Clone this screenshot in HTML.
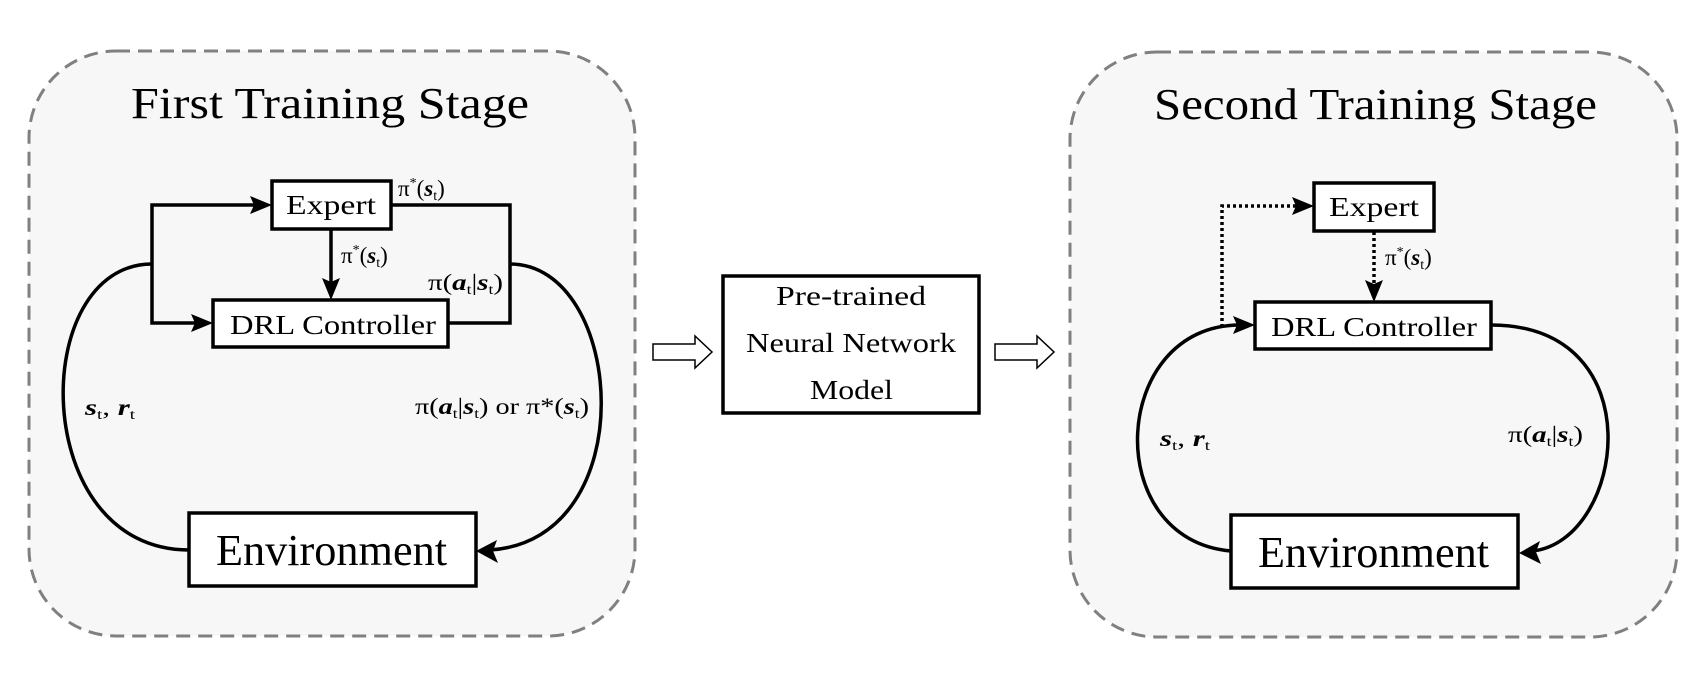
<!DOCTYPE html>
<html><head><meta charset="utf-8"><style>
html,body{margin:0;padding:0;background:#fff}
svg{display:block}
text{font-family:"Liberation Serif",serif;fill:#000}
</style></head><body>
<svg width="1707" height="680" viewBox="0 0 1707 680" xmlns="http://www.w3.org/2000/svg">
<rect x="29" y="51" width="606" height="585" rx="87" fill="#f7f7f7" stroke="#808080" stroke-width="3" stroke-dasharray="14 8"/>
<rect x="1070" y="52" width="607" height="585" rx="87" fill="#f7f7f7" stroke="#808080" stroke-width="3" stroke-dasharray="14 8"/>
<text x="131" y="118" font-size="44" textLength="398" lengthAdjust="spacingAndGlyphs">First Training Stage</text>
<text x="1154" y="119" font-size="44" textLength="443" lengthAdjust="spacingAndGlyphs">Second Training Stage</text>

<g fill="none" stroke="#000" stroke-width="3.5">
<rect x="272" y="181" width="119" height="48" fill="#fff"/>
<rect x="213" y="300" width="235" height="47" fill="#fff"/>
<rect x="189" y="513" width="287" height="73" fill="#fff"/>
<polyline points="391,205 510,205 510,323 448,323"/>
<polyline points="258,205 152,205 152,323 199,323"/>
<path d="M152,264 C28,264 28,550 189,550"/>
<path d="M510,264 C625,264 645,540 490,550"/>
<line x1="331" y1="229" x2="331" y2="282"/>
<rect x="723" y="276" width="256" height="137" fill="#fff"/>
<rect x="1314" y="183" width="120" height="48" fill="#fff"/>
<rect x="1255" y="302" width="236" height="47" fill="#fff"/>
<rect x="1231" y="515" width="287" height="73" fill="#fff"/>
<path d="M1231,551 C1100,540 1110,325 1240,325"/>
<path d="M1491,325 C1655,325 1625,540 1533,551"/>
</g>
<g fill="none" stroke="#000" stroke-width="3.5" stroke-dasharray="3 3">
<polyline points="1222,327 1222,206 1298,206"/>
<line x1="1374" y1="232" x2="1374" y2="285"/>
</g>
<g fill="#000">
<polygon points="272,205 250,196 254,205 250,214"/>
<polygon points="213,323 191,314 195,323 191,332"/>
<polygon points="331,300 322,278 331,282 340,278"/>
<polygon points="476,551 497,540 493,551 498,563"/>
<polygon points="1314,206 1292,197 1296,206 1292,215"/>
<polygon points="1374,302 1365,280 1374,284 1383,280"/>
<polygon points="1255,325 1233,316 1237,325 1233,334"/>
<polygon points="1519,553 1540,541 1536,552 1541,564"/>
</g>
<polygon points="653,344 695,344 695,336 712,352 695,368 695,360 653,360" fill="#fff" stroke="#000" stroke-width="1.5"/>
<polygon points="995,344 1037,344 1037,336 1054,352 1037,368 1037,360 995,360" fill="#fff" stroke="#000" stroke-width="1.5"/>

<text x="286" y="214" font-size="27" textLength="90" lengthAdjust="spacingAndGlyphs">Expert</text>
<text x="230" y="334" font-size="27" textLength="206" lengthAdjust="spacingAndGlyphs">DRL Controller</text>
<text x="216" y="565" font-size="44" textLength="231" lengthAdjust="spacingAndGlyphs">Environment</text>
<text x="776" y="305" font-size="27" textLength="150" lengthAdjust="spacingAndGlyphs">Pre-trained</text>
<text x="746" y="352" font-size="27" textLength="210" lengthAdjust="spacingAndGlyphs">Neural Network</text>
<text x="810" y="399" font-size="27" textLength="83" lengthAdjust="spacingAndGlyphs">Model</text>
<text x="1329" y="216" font-size="27" textLength="90" lengthAdjust="spacingAndGlyphs">Expert</text>
<text x="1271" y="336" font-size="27" textLength="206" lengthAdjust="spacingAndGlyphs">DRL Controller</text>
<text x="1258" y="567" font-size="44" textLength="231" lengthAdjust="spacingAndGlyphs">Environment</text>

<g font-size="23">
<text x="398" y="196">π<tspan font-size="14" dy="-9">*</tspan><tspan dy="9">(</tspan><tspan font-weight="bold" font-style="italic">s</tspan><tspan font-size="14" dy="4">t</tspan><tspan dy="-4">)</tspan></text>
<text x="341" y="263">π<tspan font-size="14" dy="-9">*</tspan><tspan dy="9">(</tspan><tspan font-weight="bold" font-style="italic">s</tspan><tspan font-size="14" dy="4">t</tspan><tspan dy="-4">)</tspan></text>
<text x="428" y="290" textLength="75" lengthAdjust="spacingAndGlyphs">π(<tspan font-weight="bold" font-style="italic">a</tspan><tspan font-size="14" dy="4">t</tspan><tspan dy="-4">|</tspan><tspan font-weight="bold" font-style="italic">s</tspan><tspan font-size="14" dy="4">t</tspan><tspan dy="-4">)</tspan></text>
<text x="85" y="415" textLength="50" lengthAdjust="spacingAndGlyphs"><tspan font-weight="bold" font-style="italic">s</tspan><tspan font-size="14" dy="4">t</tspan><tspan dy="-4">, </tspan><tspan font-weight="bold" font-style="italic">r</tspan><tspan font-size="14" dy="4">t</tspan></text>
<text x="415" y="414" textLength="174" lengthAdjust="spacingAndGlyphs">π(<tspan font-weight="bold" font-style="italic">a</tspan><tspan font-size="14" dy="4">t</tspan><tspan dy="-4">|</tspan><tspan font-weight="bold" font-style="italic">s</tspan><tspan font-size="14" dy="4">t</tspan><tspan dy="-4">) or π*(</tspan><tspan font-weight="bold" font-style="italic">s</tspan><tspan font-size="14" dy="4">t</tspan><tspan dy="-4">)</tspan></text>
<text x="1385" y="265">π<tspan font-size="14" dy="-9">*</tspan><tspan dy="9">(</tspan><tspan font-weight="bold" font-style="italic">s</tspan><tspan font-size="14" dy="4">t</tspan><tspan dy="-4">)</tspan></text>
<text x="1160" y="446" textLength="50" lengthAdjust="spacingAndGlyphs"><tspan font-weight="bold" font-style="italic">s</tspan><tspan font-size="14" dy="4">t</tspan><tspan dy="-4">, </tspan><tspan font-weight="bold" font-style="italic">r</tspan><tspan font-size="14" dy="4">t</tspan></text>
<text x="1508" y="442" textLength="75" lengthAdjust="spacingAndGlyphs">π(<tspan font-weight="bold" font-style="italic">a</tspan><tspan font-size="14" dy="4">t</tspan><tspan dy="-4">|</tspan><tspan font-weight="bold" font-style="italic">s</tspan><tspan font-size="14" dy="4">t</tspan><tspan dy="-4">)</tspan></text>
</g>
</svg>
</body></html>
